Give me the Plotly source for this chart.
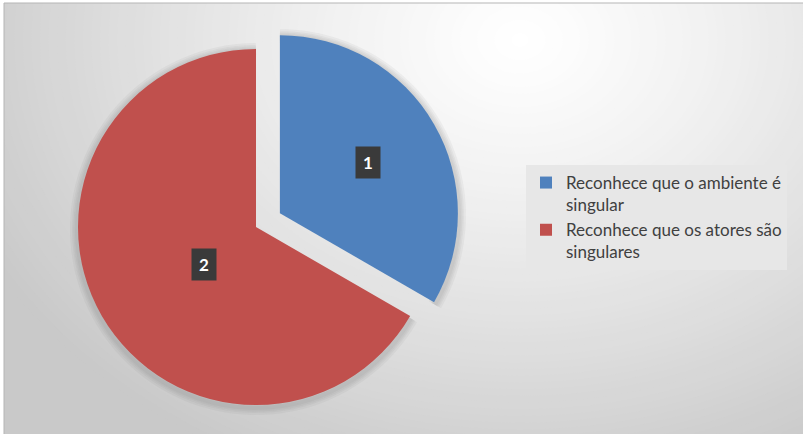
import numpy as np
import plotly.graph_objects as go

# --- data ---
labels = ["Reconhece que o ambiente é<br>singular",
          "Reconhece que os atores são<br>singulares"]
values = [1, 2]
colors = ["#4F81BD", "#C0504D"]
pulls = [0.155, 0.0]

# --- geometry (pixels) ---
W, H = 803, 434
CX, CY, R = 256, 227, 178          # pie centre and radius
half = R * (1 + max(pulls))        # plotly shrinks radius to make room for pull
dom_x = [(CX - half) / W, (CX + half) / W]
dom_y = [1 - (CY + half) / H, 1 - (CY - half) / H]

fig = go.Figure(go.Pie(
    labels=labels, values=values, sort=False,
    direction="clockwise", rotation=0,
    pull=pulls,
    marker=dict(colors=colors, line=dict(width=0)),
    textinfo="none", hoverinfo="skip",
    domain=dict(x=dom_x, y=dom_y),
))


def px2paper(x, y):
    return x / W, 1 - y / H


# --- soft radial background gradient ---
EDGE = 201
shapes = [dict(type="rect", xref="paper", yref="paper", layer="below",
               x0=0, x1=1, y0=0, y1=1,
               fillcolor=f"rgb({EDGE},{EDGE},{EDGE})", line=dict(width=0))]
gcx, gcy = 520, 40
rx, ry = 600, 470
steps = 70
for k in range(steps):
    t = 1 - k / steps
    c = int(round(255 - (255 - EDGE) * t ** 1.2))
    shapes.append(dict(
        type="circle", xref="paper", yref="paper", layer="below",
        x0=(gcx - rx * t) / W, x1=(gcx + rx * t) / W,
        y0=1 - (gcy + ry * t) / H, y1=1 - (gcy - ry * t) / H,
        fillcolor=f"rgb({c},{c},{c})", line=dict(width=0),
    ))

# soft shadow hugging the outer arc of each slice
total = sum(values)
start = 0.0
for v, p in zip(values, pulls):
    span = 360.0 * v / total
    mid = np.radians(start + span / 2)
    ox = CX + np.sin(mid) * p * R
    oy = CY - np.cos(mid) * p * R
    angs = np.radians(np.linspace(start, start + span, 80))
    pts = [px2paper(ox + np.sin(a) * (R + 1), oy - np.cos(a) * (R + 1) + 2) for a in angs]
    path = "M " + " L ".join(f"{x:.5f},{y:.5f}" for x, y in pts)
    for w in (14, 10, 7, 4):
        shapes.append(dict(type="path", path=path, xref="paper", yref="paper",
                           layer="below",
                           line=dict(color="rgba(110,110,110,0.07)", width=w)))
    start += span

# white margin and thin frame
shapes += [
    dict(type="rect", xref="paper", yref="paper", layer="below",
         x0=0, x1=4 / W, y0=0, y1=1, fillcolor="white", line=dict(width=0)),
    dict(type="rect", xref="paper", yref="paper", layer="below",
         x0=0, x1=1, y0=1 - 3 / H, y1=1, fillcolor="white", line=dict(width=0)),
    dict(type="rect", xref="paper", yref="paper", layer="below",
         x0=4 / W, x1=1.01, y0=-0.01, y1=1 - 3 / H,
         line=dict(color="#b5b5b5", width=1)),
]

# --- value labels in dark boxes, placed along each slice's mid-angle ---
label_frac = [0.57, 0.42]
annotations = []
start = 0.0
for v, p, f in zip(values, pulls, label_frac):
    span = 360.0 * v / total
    mid = np.radians(start + span / 2)
    dx, dy = np.sin(mid), -np.cos(mid)
    d = (p + f) * R
    x, y = px2paper(CX + dx * d, CY + dy * d)
    annotations.append(dict(
        x=x, y=y, xref="paper", yref="paper",
        text=f"<b>{v}</b>", showarrow=False,
        font=dict(family="Lato", size=17, color="white"),
        bgcolor="#3a3a3a", width=24, height=31, borderpad=0,
    ))
    start += span

fig.update_layout(
    width=W, height=H,
    margin=dict(l=0, r=0, t=0, b=0),
    paper_bgcolor="white",
    shapes=shapes,
    annotations=annotations,
    showlegend=True,
    legend=dict(
        x=526 / W, y=1 - 165 / H, xanchor="left", yanchor="top",
        bgcolor="#e7e7e7", valign="top",
        font=dict(family="Lato", size=17, color="#404040"),
        itemwidth=30,
    ),
)

fig.write_html("out.html")
